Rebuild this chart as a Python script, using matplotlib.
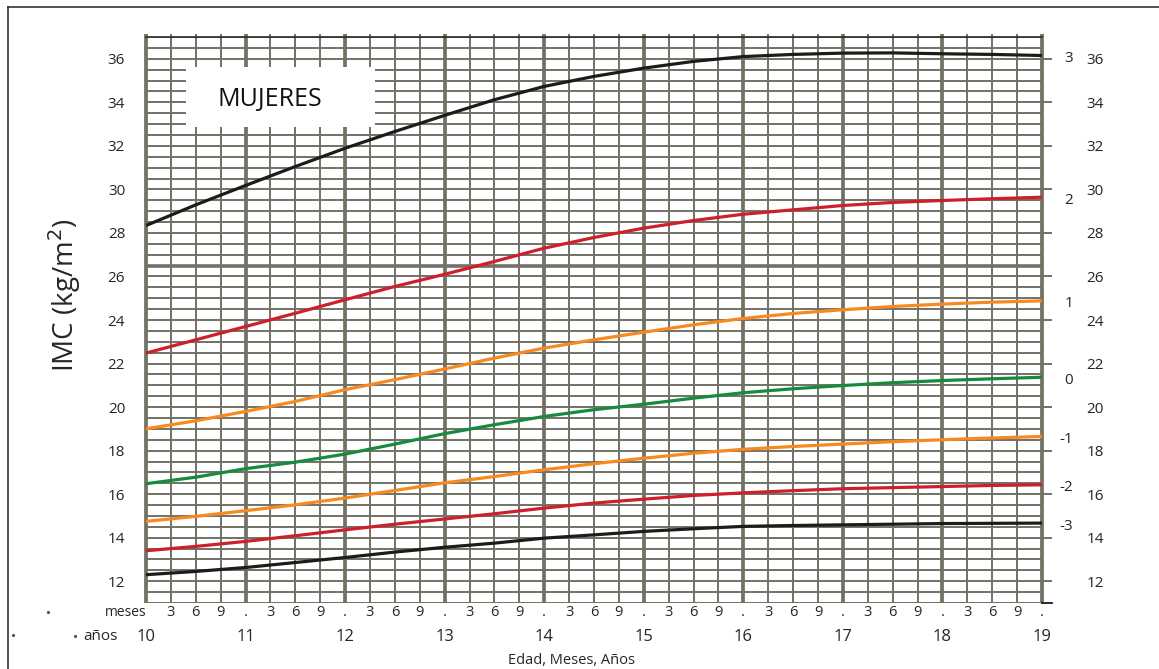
import numpy as np
import matplotlib
matplotlib.use("Agg")
import matplotlib.pyplot as plt
from matplotlib.patches import Rectangle
from matplotlib.lines import Line2D

plt.rcParams['font.family'] = ['Open Sans', 'DejaVu Sans']

# Edad (años) y curvas de IMC por puntuación z, mujeres 10-19 años
ages = [10.0, 10.5, 11.0, 11.5, 12.0, 12.5, 13.0, 13.5, 14.0, 14.5,
        15.0, 15.5, 16.0, 16.5, 17.0, 17.5, 18.0, 18.5, 19.0]
z_p3 = [28.34, 29.29, 30.18, 31.05, 31.89, 32.66, 33.40, 34.12, 34.73, 35.19,
        35.57, 35.88, 36.10, 36.20, 36.26, 36.27, 36.23, 36.20, 36.15]
z_p2 = [22.48, 23.09, 23.70, 24.31, 24.93, 25.54, 26.10, 26.69, 27.30, 27.79,
        28.22, 28.57, 28.86, 29.06, 29.26, 29.40, 29.49, 29.57, 29.64]
z_p1 = [19.00, 19.37, 19.80, 20.26, 20.80, 21.26, 21.75, 22.25, 22.71, 23.09,
        23.44, 23.78, 24.07, 24.30, 24.47, 24.62, 24.73, 24.82, 24.88]
z_0 = [16.48, 16.78, 17.17, 17.47, 17.84, 18.30, 18.78, 19.19, 19.57, 19.88,
       20.13, 20.41, 20.66, 20.84, 20.99, 21.12, 21.22, 21.30, 21.37]
z_m1 = [14.75, 14.98, 15.24, 15.51, 15.82, 16.17, 16.52, 16.81, 17.12, 17.40,
        17.65, 17.88, 18.06, 18.19, 18.30, 18.41, 18.50, 18.58, 18.65]
z_m2 = [13.40, 13.60, 13.83, 14.09, 14.36, 14.62, 14.86, 15.10, 15.36, 15.59,
        15.77, 15.94, 16.06, 16.16, 16.25, 16.30, 16.35, 16.40, 16.43]
z_m3 = [12.30, 12.45, 12.63, 12.86, 13.09, 13.34, 13.56, 13.75, 13.98, 14.13,
        14.29, 14.41, 14.52, 14.56, 14.59, 14.62, 14.65, 14.66, 14.67]

series = [z_p3, z_p2, z_p1, z_0, z_m1, z_m2, z_m3]
z_labels = ['3', '2', '1', '0', '-1', '-2', '-3']
curve_colors = ['#1c1c1c', '#cf1f2c', '#f7891f', '#178a3e', '#f7891f', '#cf1f2c', '#1c1c1c']

year_labels = ['10', '11', '12', '13', '14', '15', '16', '17', '18', '19']
month_labels = ['3', '6', '9', '.']
bmi_ticks = list(range(12, 37, 2))

GRID = '#727164'
TEXT = '#262626'

fig = plt.figure(figsize=(11.59, 6.69), dpi=100)
ax = fig.add_axes([0.12597, 0.09865, 0.77308, 0.84604])
ax.set_xlim(10, 19)
ax.set_ylim(11, 37)
for s in ax.spines.values():
    s.set_visible(False)

# papel milimetrado: líneas cada 0.5 de IMC y cada trimestre
for yv in np.arange(11, 37.01, 0.5):
    ax.plot([10, 19], [yv, yv], color=GRID, lw=1.4, zorder=1, solid_capstyle='butt')
ax.plot([10, 19], [26.5, 26.5], color=GRID, lw=2.6, zorder=1, solid_capstyle='butt')
for q in np.arange(10, 19.001, 0.25):
    thick = abs(q - round(q)) < 1e-9
    ax.plot([q, q], [11, 37.14], color=GRID, lw=2.7 if thick else 1.4,
            clip_on=False, zorder=1, solid_capstyle='butt')
ax.plot([10, 19], [37, 37], color='#2a2a2a', lw=1.2, clip_on=False, zorder=2)
ax.plot([19, 19.1], [11, 11], color='#1a1a1a', lw=1.3, clip_on=False, zorder=2)

# recuadro del título
ax.add_patch(Rectangle((0.0446, 0.8415), 0.211, 0.106, transform=ax.transAxes,
                       facecolor='white', edgecolor='none', zorder=3))
ax.text(0.1384, 0.8887, 'MUJERES', transform=ax.transAxes, ha='center', va='center',
        fontsize=18, color='#111111', fontweight='medium', zorder=4)

# curvas
for vals, col, lab in zip(series, curve_colors, z_labels):
    ax.plot(ages, vals, color=col, lw=2.3, zorder=5, solid_capstyle='butt')
    ax.annotate(lab, xy=(ages[-1], vals[-1]), xytext=(22.3, -2.2),
                textcoords='offset points', ha='right', va='center',
                fontsize=11, color=TEXT, annotation_clip=False)

# ejes
ax.set_xticks([])
ax.set_yticks(bmi_ticks)
ax.set_yticklabels([str(t) for t in bmi_ticks])
ax.tick_params(axis='y', left=False, length=0, pad=15, labelsize=11, labelcolor=TEXT)

sec = ax.secondary_yaxis('right')
sec.set_yticks(bmi_ticks)
sec.set_yticklabels([str(t) for t in bmi_ticks])
sec.tick_params(length=7.2, width=1.4, color=GRID, pad=25, labelsize=11, labelcolor=TEXT)
for s in sec.spines.values():
    s.set_visible(False)

trans = ax.get_xaxis_transform()
quarters = np.arange(10.25, 19.001, 0.25)
for i, q in enumerate(quarters):
    ax.text(q, -0.0159, month_labels[i % 4], transform=trans, ha='center', va='center',
            fontsize=10.5, color=TEXT)
ax.text(10.01, -0.0159, 'meses', transform=trans, ha='right', va='center',
        fontsize=10, color=TEXT)
for i, yl in enumerate(year_labels):
    ax.text(10 + i, -0.060, yl, transform=trans, ha='center', va='center',
            fontsize=12, color=TEXT)
ax.text(9.54, -0.060, 'años', transform=trans, ha='center', va='center',
        fontsize=11, color=TEXT)

fig.text(571 / 1159, 1 - 660 / 669, 'Edad, Meses, Años', ha='center', va='center',
         fontsize=10.5, color=TEXT)
fig.text(65 / 1159, 1 - 295 / 669, 'IMC (kg/m$^2$)', rotation=90, ha='center',
         va='center', fontsize=20, color=TEXT)

# marco exterior
fig.add_artist(Line2D([8 / 1159, 1], [1 - 7 / 669, 1 - 7 / 669], color='#222222', lw=1.1))
fig.add_artist(Line2D([8 / 1159, 8 / 1159], [0, 1 - 7 / 669], color='#222222', lw=1.1))
for px, py in [(48, 612), (13, 635), (75, 636)]:
    fig.add_artist(Line2D([px / 1159], [1 - py / 669], marker='o', ms=1.3,
                          color='#555555', lw=0))

fig.savefig('out.png', dpi=100)
